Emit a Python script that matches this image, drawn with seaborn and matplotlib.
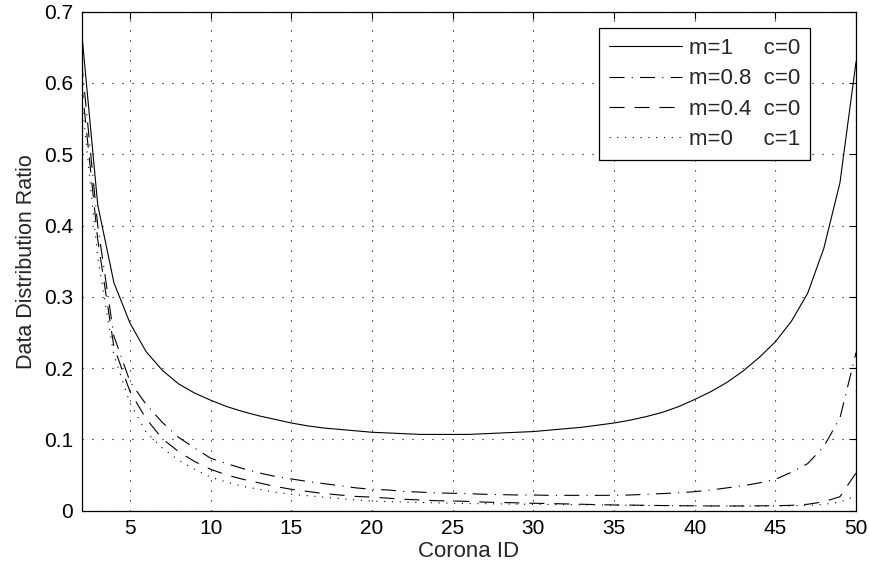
import numpy as np
import pandas as pd
import matplotlib
matplotlib.use("Agg")
import matplotlib.pyplot as plt
import seaborn as sns

corona_id = list(range(2, 51))

m1_c0 = [0.672, 0.429, 0.320, 0.263, 0.223, 0.197, 0.178, 0.165, 0.155, 0.146,
         0.139, 0.133, 0.128, 0.123, 0.119, 0.116, 0.114, 0.112, 0.110, 0.109,
         0.108, 0.107, 0.107, 0.107, 0.107, 0.108, 0.109, 0.110, 0.111, 0.113,
         0.115, 0.117, 0.120, 0.123, 0.127, 0.132, 0.138, 0.146, 0.156, 0.167,
         0.180, 0.196, 0.215, 0.237, 0.266, 0.305, 0.368, 0.460, 0.630]

m08_c0 = [0.630, 0.400, 0.245, 0.181, 0.149, 0.124, 0.103, 0.088, 0.0735, 0.066,
          0.059, 0.053, 0.048, 0.0445, 0.041, 0.038, 0.035, 0.032, 0.030, 0.029,
          0.027, 0.026, 0.025, 0.0244, 0.0238, 0.023, 0.0225, 0.022, 0.022, 0.0215,
          0.0215, 0.0215, 0.0215, 0.0216, 0.022, 0.023, 0.024, 0.025, 0.0267, 0.029,
          0.032, 0.035, 0.039, 0.044, 0.054, 0.066, 0.090, 0.130, 0.222]

m04_c0 = [0.600, 0.380, 0.230, 0.167, 0.129, 0.101, 0.083, 0.069, 0.058, 0.050,
          0.044, 0.039, 0.034, 0.030, 0.027, 0.024, 0.022, 0.020, 0.019, 0.0175,
          0.016, 0.015, 0.014, 0.0136, 0.013, 0.012, 0.0115, 0.011, 0.0104, 0.010,
          0.0095, 0.009, 0.0085, 0.008, 0.0078, 0.0075, 0.0072, 0.007, 0.0068, 0.0066,
          0.0066, 0.0066, 0.0068, 0.007, 0.0075, 0.009, 0.0125, 0.0196, 0.053]

m0_c1 = [0.580, 0.355, 0.218, 0.151, 0.110, 0.088, 0.071, 0.058, 0.047, 0.040,
         0.034, 0.030, 0.026, 0.023, 0.021, 0.019, 0.017, 0.015, 0.0136, 0.0128,
         0.012, 0.0115, 0.011, 0.0105, 0.010, 0.0098, 0.0095, 0.0092, 0.009, 0.0087,
         0.0085, 0.0082, 0.008, 0.0078, 0.0076, 0.0074, 0.0072, 0.007, 0.0068, 0.0066,
         0.0065, 0.0065, 0.0065, 0.0066, 0.0068, 0.0075, 0.0088, 0.012, 0.021]

labels = ["m=1     c=0", "m=0.8  c=0", "m=0.4  c=0", "m=0     c=1"]
series = [m1_c0, m08_c0, m04_c0, m0_c1]

x_ticks = [5, 10, 15, 20, 25, 30, 35, 40, 45, 50]
y_ticks = [0, 0.1, 0.2, 0.3, 0.4, 0.5, 0.6, 0.7]
y_tick_labels = ["0", "0.1", "0.2", "0.3", "0.4", "0.5", "0.6", "0.7"]

sns.set_theme(style="white")
plt.rcParams["font.family"] = ["Liberation Sans", "DejaVu Sans"]

fig = plt.figure(figsize=(8.7, 5.79), dpi=100)
ax = fig.add_axes([0.0938, 0.118, 0.8902, 0.8618])

styles = ["-", (0, (13.5, 6.5, 1, 6.5)), (0, (13.5, 9)), (0, (1, 6))]

for lab, vals, ls in zip(labels, series, styles):
    df = pd.DataFrame({"Corona ID": corona_id, "ratio": vals})
    sns.lineplot(data=df, x="Corona ID", y="ratio", ax=ax, color="black",
                 linewidth=0.8, linestyle=ls, label=lab)

ax.set_xlim(2, 50)
ax.set_ylim(0, 0.7)
ax.set_xticks(x_ticks)
ax.set_yticks(y_ticks)
ax.set_yticklabels(y_tick_labels)
ax.set_xlabel("Corona ID", fontsize=16, labelpad=2)
ax.set_ylabel("Data Distribution Ratio", fontsize=15.5, labelpad=5)

ax.grid(True, color="black", linestyle=(0, (1, 8)), linewidth=0.8)
ax.tick_params(direction="in", length=5, width=0.8, top=True, right=True,
               labelsize=15, colors="black", pad=6)
for sp in ax.spines.values():
    sp.set_color("black")
    sp.set_linewidth(0.9)

leg = ax.legend(loc="upper right", bbox_to_anchor=(0.9406, 0.9673), fontsize=16,
                handlelength=3.3, frameon=True, fancybox=False,
                edgecolor="black", framealpha=1, borderpad=0.45,
                labelspacing=0.42, handletextpad=0.3, borderaxespad=0.0)
leg.get_frame().set_linewidth(0.9)

fig.savefig("out.png", dpi=100)
